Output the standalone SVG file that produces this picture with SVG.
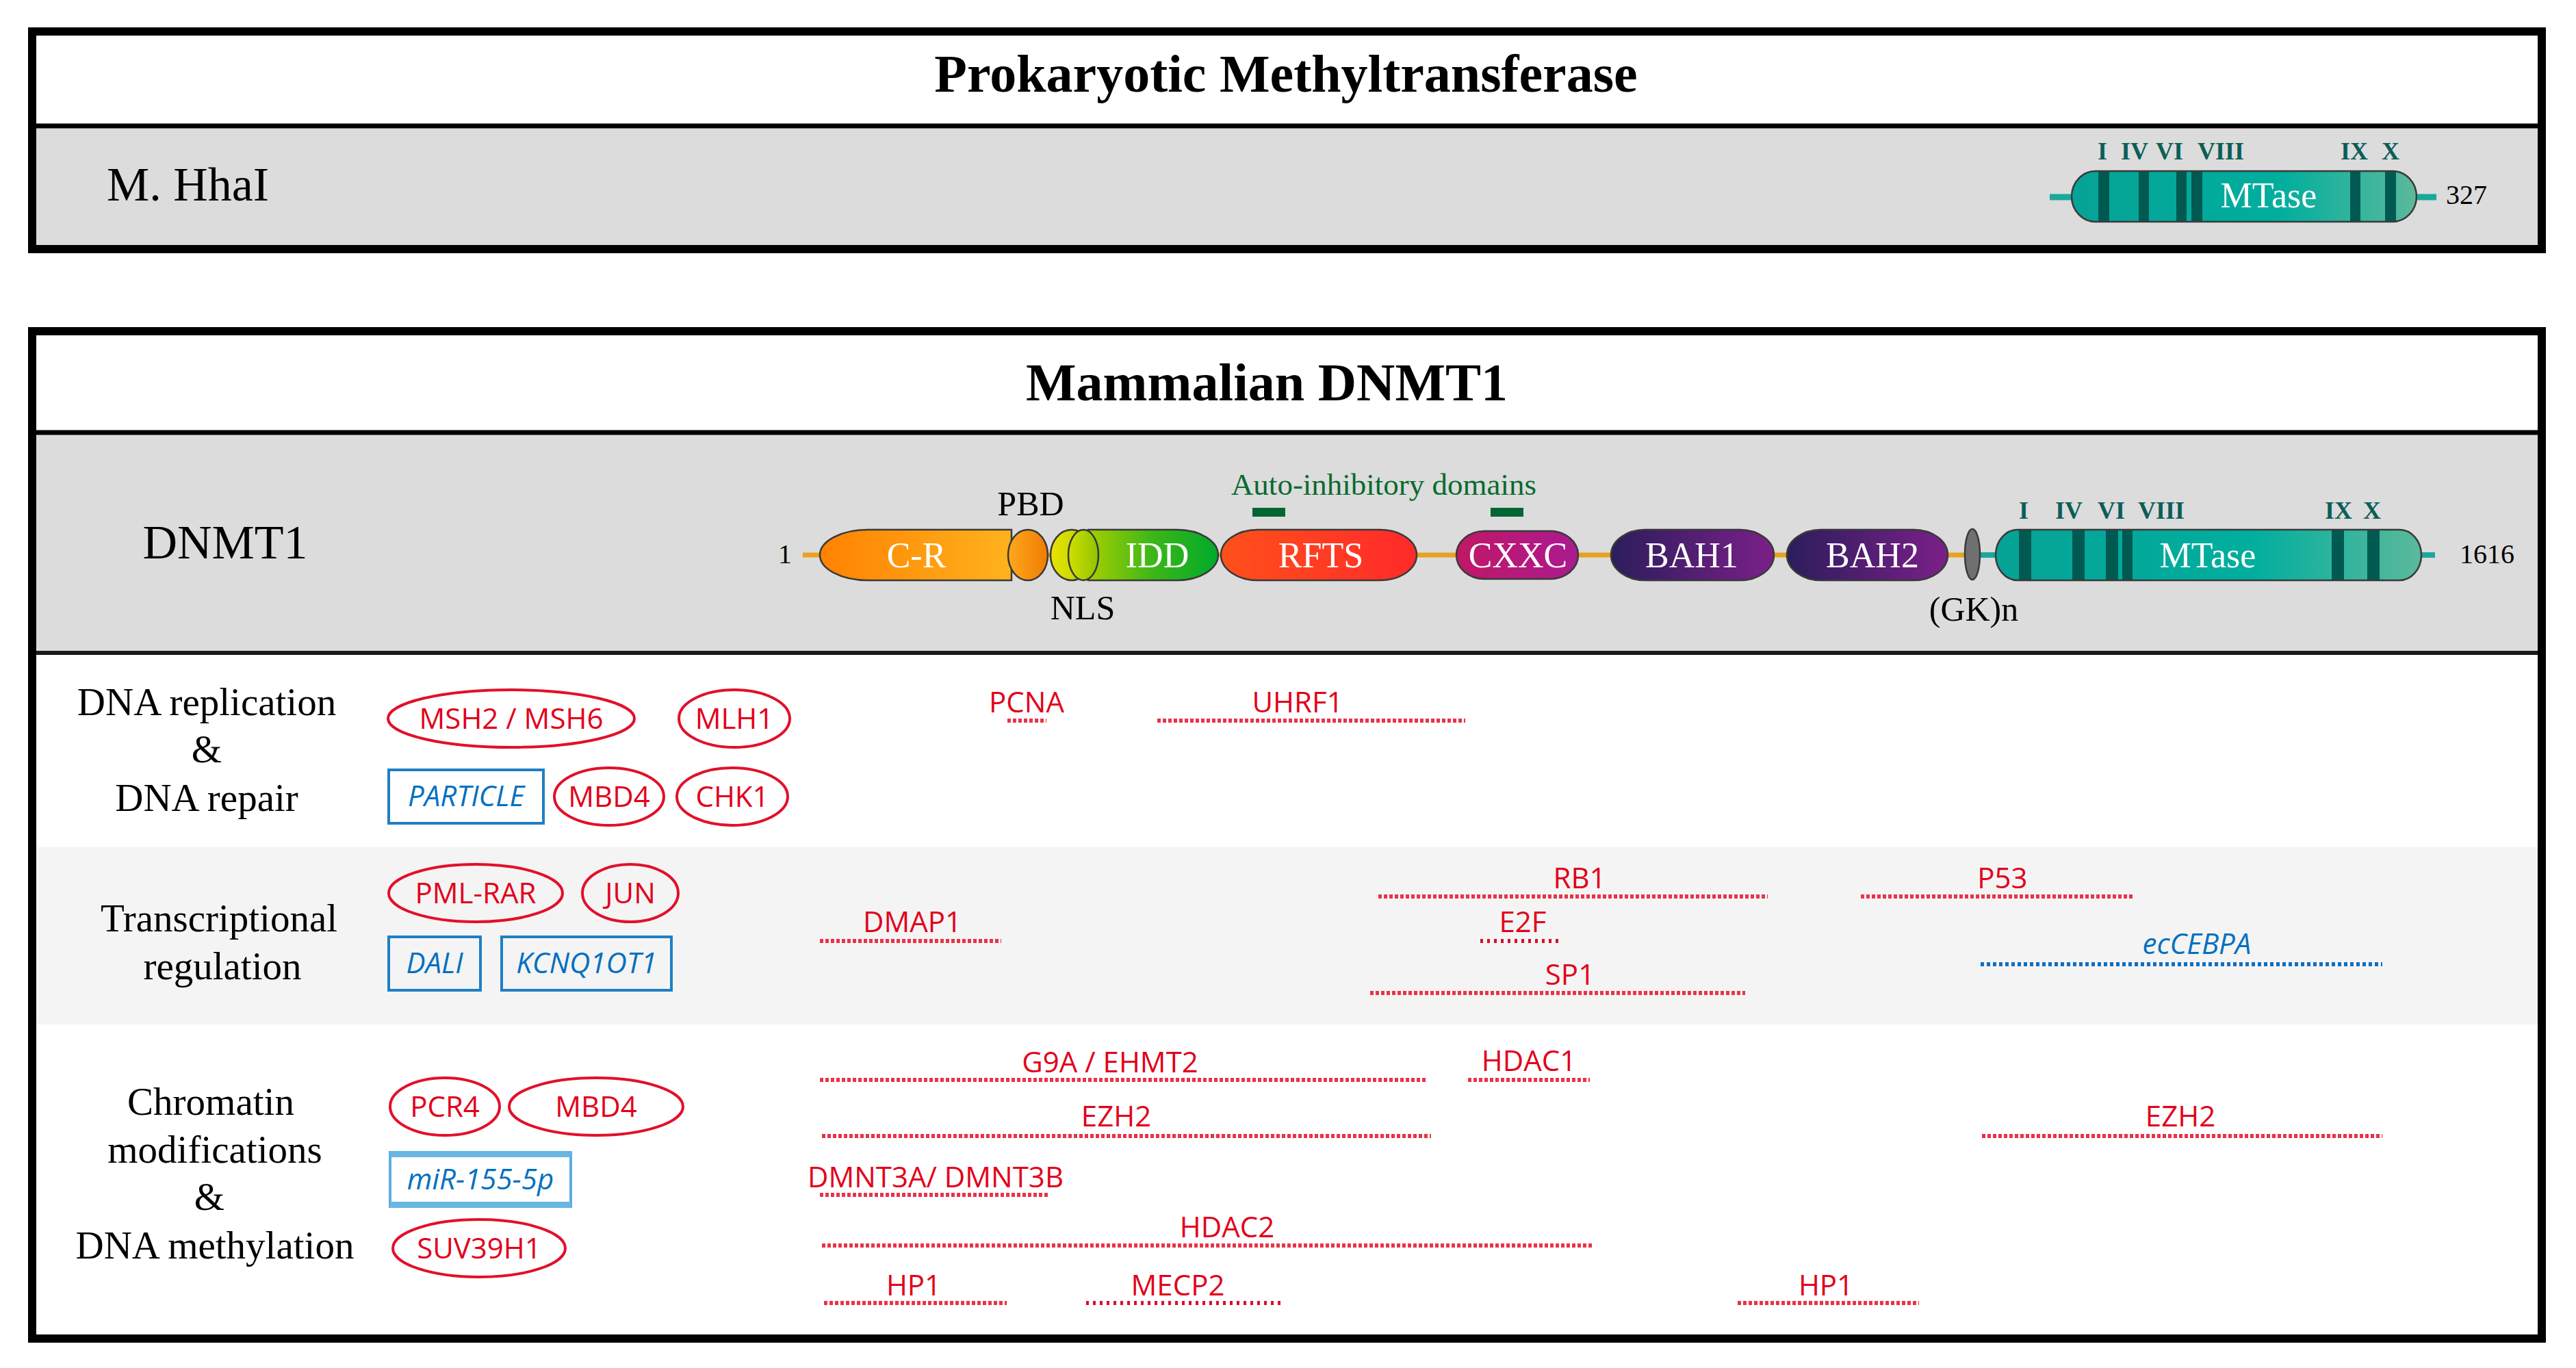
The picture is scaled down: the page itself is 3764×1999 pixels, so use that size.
<svg xmlns="http://www.w3.org/2000/svg" width="3764" height="1999" viewBox="0 0 3764 1999">
<defs>
<style>
.serif{font-family:"Liberation Serif","Times New Roman",serif}
.title{font-family:"Liberation Serif","Times New Roman",serif;font-weight:bold;font-size:78px;text-anchor:middle;fill:#000}
.lab{font-family:"Liberation Serif","Times New Roman",serif;font-size:57px;text-anchor:middle;fill:#000}
.small{font-family:"Liberation Serif","Times New Roman",serif;font-size:50px;text-anchor:middle;fill:#000}
.num{font-family:"Liberation Serif","Times New Roman",serif;font-size:40px;text-anchor:middle;fill:#000}
.dom{font-family:"Liberation Serif","Times New Roman",serif;font-size:52px;text-anchor:middle;fill:#fff}
.roman{font-family:"Liberation Serif","Times New Roman",serif;font-weight:bold;font-size:36px;text-anchor:middle;fill:#0b5e57}
.sans{font-family:"Open Sans","Liberation Sans",sans-serif;font-size:42px;text-anchor:middle}
.red{fill:#e2001a}
.blue{fill:#0070c0;font-style:italic}
.ell{fill:none;stroke:#e2102a;stroke-width:4}
.box{fill:none;stroke:#1f7fc4;stroke-width:4}
.dot{stroke:#e83448;stroke-width:6;stroke-dasharray:5 3;fill:none}
.dot2{stroke:#d8102a;stroke-dasharray:4 6}
.dotb{stroke:#1070c0;stroke-dasharray:5 4}
.edge{stroke:#3a3a3a;stroke-width:2.5}
.bar{fill:#005a52}
</style>
<linearGradient id="gCR"><stop offset="0" stop-color="#ff8200"/><stop offset="1" stop-color="#ffb21e"/></linearGradient>
<linearGradient id="gPBD"><stop offset="0" stop-color="#ffa81e"/><stop offset="1" stop-color="#f07c00"/></linearGradient>
<linearGradient id="gNLSo"><stop offset="0" stop-color="#e8e400"/><stop offset="1" stop-color="#b2d000"/></linearGradient>
<linearGradient id="gNLSi"><stop offset="0" stop-color="#d2e000"/><stop offset="1" stop-color="#8ec400"/></linearGradient>
<linearGradient id="gIDD"><stop offset="0" stop-color="#a6d000"/><stop offset="0.5" stop-color="#3cb618"/><stop offset="1" stop-color="#00aa2a"/></linearGradient>
<linearGradient id="gRFTS"><stop offset="0" stop-color="#ff501a"/><stop offset="1" stop-color="#ff2a2a"/></linearGradient>
<linearGradient id="gCXXC"><stop offset="0" stop-color="#c01866"/><stop offset="1" stop-color="#ab1a90"/></linearGradient>
<linearGradient id="gBAH"><stop offset="0" stop-color="#2c1d5c"/><stop offset="1" stop-color="#7a2088"/></linearGradient>
<linearGradient id="gMT"><stop offset="0" stop-color="#06a396"/><stop offset="0.6" stop-color="#00ae9e"/><stop offset="1" stop-color="#5bb99b"/></linearGradient>
<clipPath id="clipM1"><path d="M3062,250 H3496 A35,37 0 0 1 3496,324 H3062 A35,37 0 0 1 3062,250 Z"/></clipPath>
<clipPath id="clipM2"><path d="M2948,774 H3506 A32,37 0 0 1 3506,848 H2948 A32,37 0 0 1 2948,774 Z"/></clipPath>
</defs>

<rect width="3764" height="1999" fill="#fff"/>

<!-- Top panel -->
<g id="panel-prokaryotic">
<rect x="47" y="46" width="3667" height="318" fill="#fff"/>
<rect x="53" y="187" width="3655" height="171" fill="#dcdcdc"/>
<line x1="47" y1="184" x2="3714" y2="184" stroke="#000" stroke-width="7"/>
<rect x="47" y="46" width="3667" height="318" fill="none" stroke="#000" stroke-width="12"/>
<text class="title" x="1879" y="134">Prokaryotic Methyltransferase</text>
<text class="serif" x="156" y="293" font-size="70">M. HhaI</text>
</g>

<!-- Bottom panel -->
<g id="panel-mammalian">
<rect x="47" y="484" width="3667" height="1472" fill="#fff"/>
<rect x="53" y="635" width="3655" height="317" fill="#dcdcdc"/>
<rect x="53" y="1238" width="3655" height="259" fill="#f4f4f4"/>
<line x1="47" y1="632" x2="3714" y2="632" stroke="#000" stroke-width="7"/>
<line x1="47" y1="954" x2="3714" y2="954" stroke="#1a1a1a" stroke-width="6"/>
<rect x="47" y="484" width="3667" height="1472" fill="none" stroke="#000" stroke-width="12"/>
<text class="title" x="1851" y="585">Mammalian DNMT1</text>
<text class="serif" x="329" y="816" font-size="70" text-anchor="middle">DNMT1</text>
</g>

<!-- Connectors: backbones and dotted interaction spans -->
<g id="connectors">
<line x1="2995" y1="288" x2="3030" y2="288" stroke="#1aa89c" stroke-width="9"/>
<line x1="3528" y1="288" x2="3560" y2="288" stroke="#1aa89c" stroke-width="9"/>
<line x1="1173" y1="811" x2="2872" y2="811" stroke="#e8a21e" stroke-width="7"/>
<line x1="2892" y1="811" x2="2920" y2="811" stroke="#1aa89c" stroke-width="8"/>
<line x1="3535" y1="811" x2="3558" y2="811" stroke="#1aa89c" stroke-width="8"/>

<line class="dot" x1="1472" y1="1053" x2="1529" y2="1053"/>
<line class="dot" x1="1691" y1="1053" x2="2141" y2="1053"/>
<line class="dot" x1="2014" y1="1310" x2="2583" y2="1310"/>
<line class="dot" x1="2719" y1="1310" x2="3119" y2="1310"/>
<line class="dot" x1="1198" y1="1375" x2="1463" y2="1375"/>
<line class="dot dot2" x1="2163" y1="1375" x2="2282" y2="1375"/>
<line class="dot" x1="2002" y1="1451" x2="2550" y2="1451"/>
<line class="dot dotb" x1="2894" y1="1409" x2="3481" y2="1409"/>
<line class="dot" x1="1198" y1="1578" x2="2085" y2="1578"/>
<line class="dot" x1="2145" y1="1578" x2="2323" y2="1578"/>
<line class="dot" x1="1201" y1="1660" x2="2091" y2="1660"/>
<line class="dot" x1="2896" y1="1660" x2="3481" y2="1660"/>
<line class="dot" x1="1198" y1="1746" x2="1533" y2="1746"/>
<line class="dot" x1="1201" y1="1820" x2="2326" y2="1820"/>
<line class="dot" x1="1204" y1="1904" x2="1471" y2="1904"/>
<line class="dot dot2" x1="1587" y1="1904" x2="1875" y2="1904"/>
<line class="dot" x1="2539" y1="1904" x2="2804" y2="1904"/>
</g>

<!-- M.HhaI MTase domain -->
<g id="hhai-mtase">
<path d="M3062,250 H3496 A35,37 0 0 1 3496,324 H3062 A35,37 0 0 1 3062,250 Z" fill="url(#gMT)"/>
<g clip-path="url(#clipM1)">
<rect class="bar" x="3066" y="248" width="16" height="80"/>
<rect class="bar" x="3125" y="248" width="15" height="80"/>
<rect class="bar" x="3180" y="248" width="15" height="80"/>
<rect class="bar" x="3202" y="248" width="16" height="80"/>
<rect class="bar" x="3434" y="248" width="15" height="80"/>
<rect class="bar" x="3485" y="248" width="16" height="80"/>
</g>
<path class="edge" d="M3062,250 H3496 A35,37 0 0 1 3496,324 H3062 A35,37 0 0 1 3062,250 Z" fill="none"/>
<text class="dom" x="3315" y="303" font-size="50">MTase</text>
<text class="roman" x="3072" y="233">I</text>
<text class="roman" x="3119" y="233">IV</text>
<text class="roman" x="3170" y="233">VI</text>
<text class="roman" x="3245" y="233">VIII</text>
<text class="roman" x="3440" y="233">IX</text>
<text class="roman" x="3493" y="233">X</text>
<text class="num" x="3604" y="298">327</text>
</g>

<!-- DNMT1 domains -->
<g id="dnmt1-start"><text class="num" x="1147" y="823">1</text></g>
<g id="dom-cr">
<path class="edge" d="M1268,774 H1478 V848 H1268 A70,37 0 0 1 1268,774 Z" fill="url(#gCR)"/>
<text class="dom" x="1339" y="829">C-R</text>
</g>
<g id="dom-pbd">
<ellipse class="edge" cx="1502" cy="811" rx="29" ry="37" fill="url(#gPBD)"/>
<text class="small" x="1506" y="753">PBD</text>
</g>
<g id="dom-idd">
<path class="edge" d="M1590,774 H1720 A60,37 0 0 1 1720,848 H1590 Z" fill="url(#gIDD)"/>
<text class="dom" x="1691" y="829">IDD</text>
</g>
<g id="dom-nls">
<ellipse class="edge" cx="1566" cy="811" rx="31" ry="37" fill="url(#gNLSo)"/>
<ellipse class="edge" cx="1583" cy="811" rx="22" ry="37" fill="url(#gNLSi)"/>
<text class="small" x="1582" y="905">NLS</text>
</g>
<g id="dom-rfts">
<path class="edge" d="M1838,774 H2016 A54,37 0 0 1 2016,848 H1838 A54,37 0 0 1 1838,774 Z" fill="url(#gRFTS)"/>
<text class="dom" x="1930" y="829">RFTS</text>
</g>
<g id="dom-cxxc">
<path class="edge" d="M2169,776 H2265 A41,35 0 0 1 2265,846 H2169 A41,35 0 0 1 2169,776 Z" fill="url(#gCXXC)"/>
<text class="dom" x="2218" y="829">CXXC</text>
</g>
<g id="auto-inhibitory">
<rect x="1830" y="742" width="48" height="13" fill="#006633"/>
<rect x="2178" y="742" width="48" height="13" fill="#006633"/>
<text class="serif" x="2022" y="723" font-size="45" text-anchor="middle" fill="#0a6a30">Auto-inhibitory domains</text>
</g>
<g id="dom-bah1">
<path class="edge" d="M2404,774 H2542 A50,37 0 0 1 2542,848 H2404 A50,37 0 0 1 2404,774 Z" fill="url(#gBAH)"/>
<text class="dom" x="2472" y="829">BAH1</text>
</g>
<g id="dom-bah2">
<path class="edge" d="M2661,774 H2796 A50,37 0 0 1 2796,848 H2661 A50,37 0 0 1 2661,774 Z" fill="url(#gBAH)"/>
<text class="dom" x="2736" y="829">BAH2</text>
</g>
<g id="dom-gk">
<ellipse class="edge" cx="2882" cy="810" rx="11" ry="37" fill="#707070"/>
<text class="small" x="2884" y="907">(GK)n</text>
</g>
<g id="dom-mtase">
<path d="M2948,774 H3506 A32,37 0 0 1 3506,848 H2948 A32,37 0 0 1 2948,774 Z" fill="url(#gMT)"/>
<g clip-path="url(#clipM2)">
<rect class="bar" x="2950" y="772" width="18" height="80"/>
<rect class="bar" x="3028" y="772" width="18" height="80"/>
<rect class="bar" x="3077" y="772" width="18" height="80"/>
<rect class="bar" x="3101" y="772" width="15" height="80"/>
<rect class="bar" x="3407" y="772" width="18" height="80"/>
<rect class="bar" x="3459" y="772" width="18" height="80"/>
</g>
<path class="edge" d="M2948,774 H3506 A32,37 0 0 1 3506,848 H2948 A32,37 0 0 1 2948,774 Z" fill="none"/>
<text class="dom" x="3226" y="829">MTase</text>
<text class="roman" x="2957" y="758">I</text>
<text class="roman" x="3023" y="758">IV</text>
<text class="roman" x="3085" y="758">VI</text>
<text class="roman" x="3158" y="758">VIII</text>
<text class="roman" x="3417" y="758">IX</text>
<text class="roman" x="3466" y="758">X</text>
<text class="num" x="3634" y="823">1616</text>
</g>

<!-- Row labels -->
<g id="row-replication-label">
<text class="lab" x="302" y="1045">DNA replication</text>
<text class="lab" x="302" y="1114">&amp;</text>
<text class="lab" x="302" y="1185">DNA repair</text>
</g>
<g id="row-transcription-label">
<text class="lab" x="320" y="1361">Transcriptional</text>
<text class="lab" x="325" y="1431">regulation</text>
</g>
<g id="row-chromatin-label">
<text class="lab" x="308" y="1629">Chromatin</text>
<text class="lab" x="314" y="1699">modifications</text>
<text class="lab" x="306" y="1768">&amp;</text>
<text class="lab" x="314" y="1839">DNA methylation</text>
</g>

<!-- Partner nodes (left) -->
<g id="n-msh"><ellipse class="ell" cx="747" cy="1050" rx="180" ry="42"/><text class="sans red" x="747" y="1065">MSH2 / MSH6</text></g>
<g id="n-mlh1"><ellipse class="ell" cx="1073" cy="1050" rx="81" ry="42"/><text class="sans red" x="1073" y="1065">MLH1</text></g>
<g id="n-particle"><rect class="box" x="568" y="1125" width="226" height="78"/><text class="sans blue" x="681" y="1178">PARTICLE</text></g>
<g id="n-mbd4a"><ellipse class="ell" cx="890" cy="1164" rx="80" ry="42"/><text class="sans red" x="890" y="1179">MBD4</text></g>
<g id="n-chk1"><ellipse class="ell" cx="1070" cy="1164" rx="81" ry="42"/><text class="sans red" x="1070" y="1179">CHK1</text></g>
<g id="n-pmlrar"><ellipse class="ell" cx="695" cy="1305" rx="127" ry="42"/><text class="sans red" x="695" y="1320">PML-RAR</text></g>
<g id="n-jun"><ellipse class="ell" cx="921" cy="1305" rx="70" ry="42"/><text class="sans red" x="921" y="1320">JUN</text></g>
<g id="n-dali"><rect class="box" x="568" y="1369" width="134" height="78"/><text class="sans blue" x="635" y="1422">DALI</text></g>
<g id="n-kcnq"><rect class="box" x="733" y="1369" width="248" height="78"/><text class="sans blue" x="857" y="1422">KCNQ1OT1</text></g>
<g id="n-pcr4"><ellipse class="ell" cx="650" cy="1617" rx="80" ry="42"/><text class="sans red" x="650" y="1632">PCR4</text></g>
<g id="n-mbd4b"><ellipse class="ell" cx="871" cy="1617" rx="127" ry="42"/><text class="sans red" x="871" y="1632">MBD4</text></g>
<g id="n-mir"><rect x="570" y="1684" width="264" height="79" fill="none" stroke="#5aaee0" stroke-width="4"/><line x1="570" y1="1687" x2="834" y2="1687" stroke="#6ab6e2" stroke-width="8"/><line x1="570" y1="1760" x2="834" y2="1760" stroke="#6ab6e2" stroke-width="8"/><text class="sans blue" x="702" y="1738">miR-155-5p</text></g>
<g id="n-suv"><ellipse class="ell" cx="700" cy="1824" rx="126" ry="42"/><text class="sans red" x="700" y="1839">SUV39H1</text></g>

<!-- Span labels -->
<g id="s-pcna"><text class="sans red" x="1500" y="1041">PCNA</text></g>
<g id="s-uhrf1"><text class="sans red" x="1896" y="1041">UHRF1</text></g>
<g id="s-rb1"><text class="sans red" x="2308" y="1298">RB1</text></g>
<g id="s-p53"><text class="sans red" x="2926" y="1298">P53</text></g>
<g id="s-dmap1"><text class="sans red" x="1333" y="1362">DMAP1</text></g>
<g id="s-e2f"><text class="sans red" x="2225" y="1362">E2F</text></g>
<g id="s-sp1"><text class="sans red" x="2294" y="1439">SP1</text></g>
<g id="s-eccebpa"><text class="sans blue" x="3210" y="1394">ecCEBPA</text></g>
<g id="s-g9a"><text class="sans red" x="1622" y="1567">G9A / EHMT2</text></g>
<g id="s-hdac1"><text class="sans red" x="2234" y="1565">HDAC1</text></g>
<g id="s-ezh2a"><text class="sans red" x="1631" y="1646">EZH2</text></g>
<g id="s-ezh2b"><text class="sans red" x="3186" y="1646">EZH2</text></g>
<g id="s-dnmt3"><text class="sans red" x="1367" y="1735">DMNT3A/ DMNT3B</text></g>
<g id="s-hdac2"><text class="sans red" x="1793" y="1808">HDAC2</text></g>
<g id="s-hp1a"><text class="sans red" x="1335" y="1893">HP1</text></g>
<g id="s-mecp2"><text class="sans red" x="1721" y="1893">MECP2</text></g>
<g id="s-hp1b"><text class="sans red" x="2668" y="1893">HP1</text></g>
</svg>
